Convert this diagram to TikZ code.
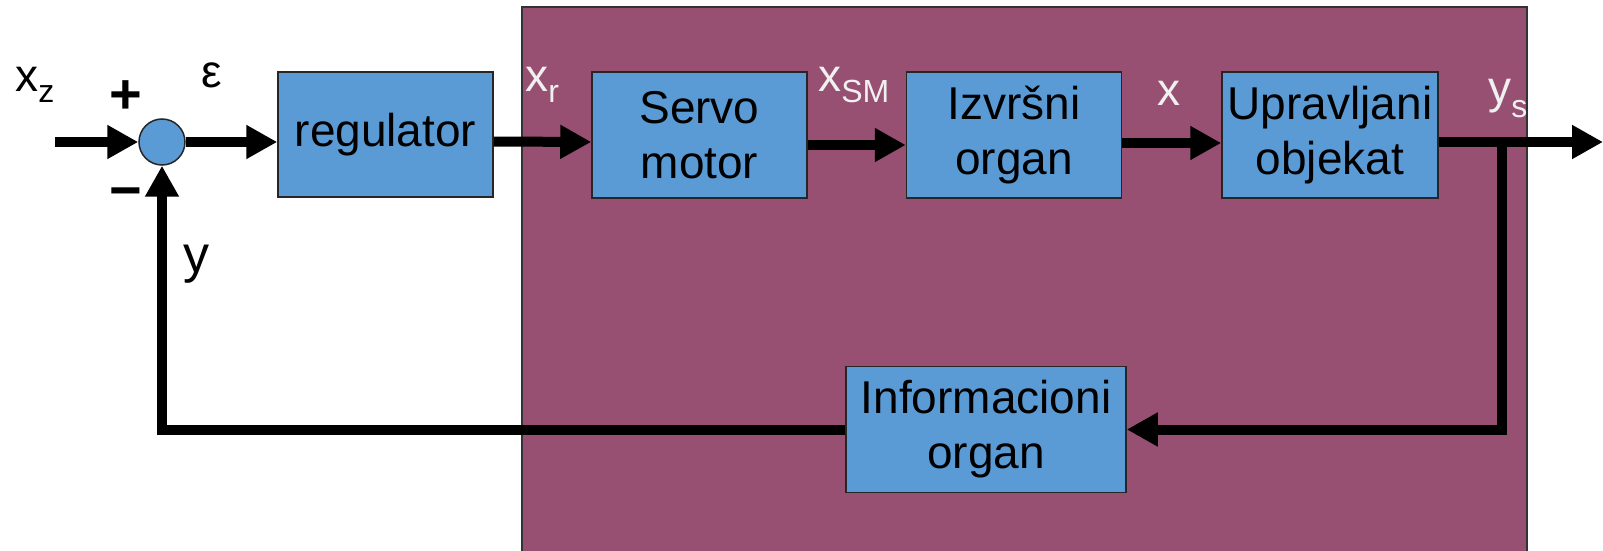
\documentclass[tikz,border=0pt]{standalone}
\usepackage{fontspec}
\setmainfont{Liberation Sans}
\usetikzlibrary{arrows.meta}
\definecolor{plant}{HTML}{975072}
\definecolor{blockblue}{HTML}{5B9BD5}
\definecolor{sigwhite}{HTML}{F0F0F0}
% signal name with a lowered subscript: \sigl[drop]{base}{index}
\newcommand\sigl[3][5.5pt]{#2\raisebox{-#1}{\fontsize{16}{16}\selectfont #3}}
\begin{document}
\begin{tikzpicture}[x=0.5pt,y=-0.5pt,
  block/.style={draw=black!85, line width=0.75pt, fill=blockblue,
    minimum width=107.5pt, minimum height=63pt, inner sep=0pt,
    align=center, font=\fontsize{23}{27.6}\selectfont},
  sumpt/.style={circle, draw=black!85, line width=0.75pt, fill=blockblue,
    minimum size=23pt, inner sep=0pt},
  sig/.style={line width=5pt, -{Triangle[length=15.5pt,width=16pt]}},
  lab/.style={inner sep=0pt, anchor=base west, font=\fontsize{23}{27.6}\selectfont},
]
\clip (0,0) rectangle (1603,551);
% plant area
\path[fill=plant, draw=black!80, line width=0.75pt] (522,7) rectangle (1527,580);

% blocks
\node[sumpt] (sum) at (162,142) {};
\node[block, minimum height=62.5pt] (reg) at (385.5,134.5) {regulator};
\node[block] (servo) at (699.5,135) {Servo\\motor};
\node[block] (izv) at (1014,135) {Izvršni\\organ};
\node[block, minimum width=108pt] (upr) at (1330,135) {Upravljani\\objekat};
\node[block, minimum width=140pt] (info) at (986,429.5) {Informacioni\\organ};

\coordinate (in) at (55,142);
\coordinate (out) at (1603,142);
\coordinate (split) at (1502,142);

% signal flow
\draw[sig] (in) -- (sum.west);
\draw[sig] (sum.east) -- (sum.east -| reg.west);
\draw[sig] ([yshift=-3.5pt]reg.east) -- ([yshift=-3.5pt]servo.west);
\draw[sig] ([yshift=-5pt]servo.east) -- ([yshift=-5pt]izv.west);
\draw[sig] ([yshift=-4pt]izv.east) -- ([yshift=-4pt]upr.west);
\draw[sig] (upr.east |- out) -- (out);
\draw[sig] (split) |- (info.east);
\draw[sig] (info.west) -| (sum.south);

% signal labels
\node[lab] (xz) at (15,92) {\sigl{x}{z}};
\node[lab, text=sigwhite] (xr) at (525,92) {\sigl{x}{r}};
\node[lab, text=sigwhite] (xsm) at (818,92) {\sigl{x}{SM}};
\node[lab, text=sigwhite] (xx) at (1157,106) {x};
\node[lab, text=sigwhite] (ys) at (1488,104) {\sigl[7pt]{y}{s}};
\node[font=\fontsize{23}{23}\selectfont, inner sep=0pt] (eps) at (212,75) {ε};
\node[font=\bfseries\fontsize{28}{28}\selectfont, inner sep=0pt] (plus) at (126,97) {+};
\node[font=\bfseries\fontsize{28}{28}\selectfont, inner sep=0pt] (minus) at (126,199) {−};
\node[lab, font=\fontsize{26}{26}\selectfont] (yy) at (183,272) {y};
\end{tikzpicture}
\end{document}
